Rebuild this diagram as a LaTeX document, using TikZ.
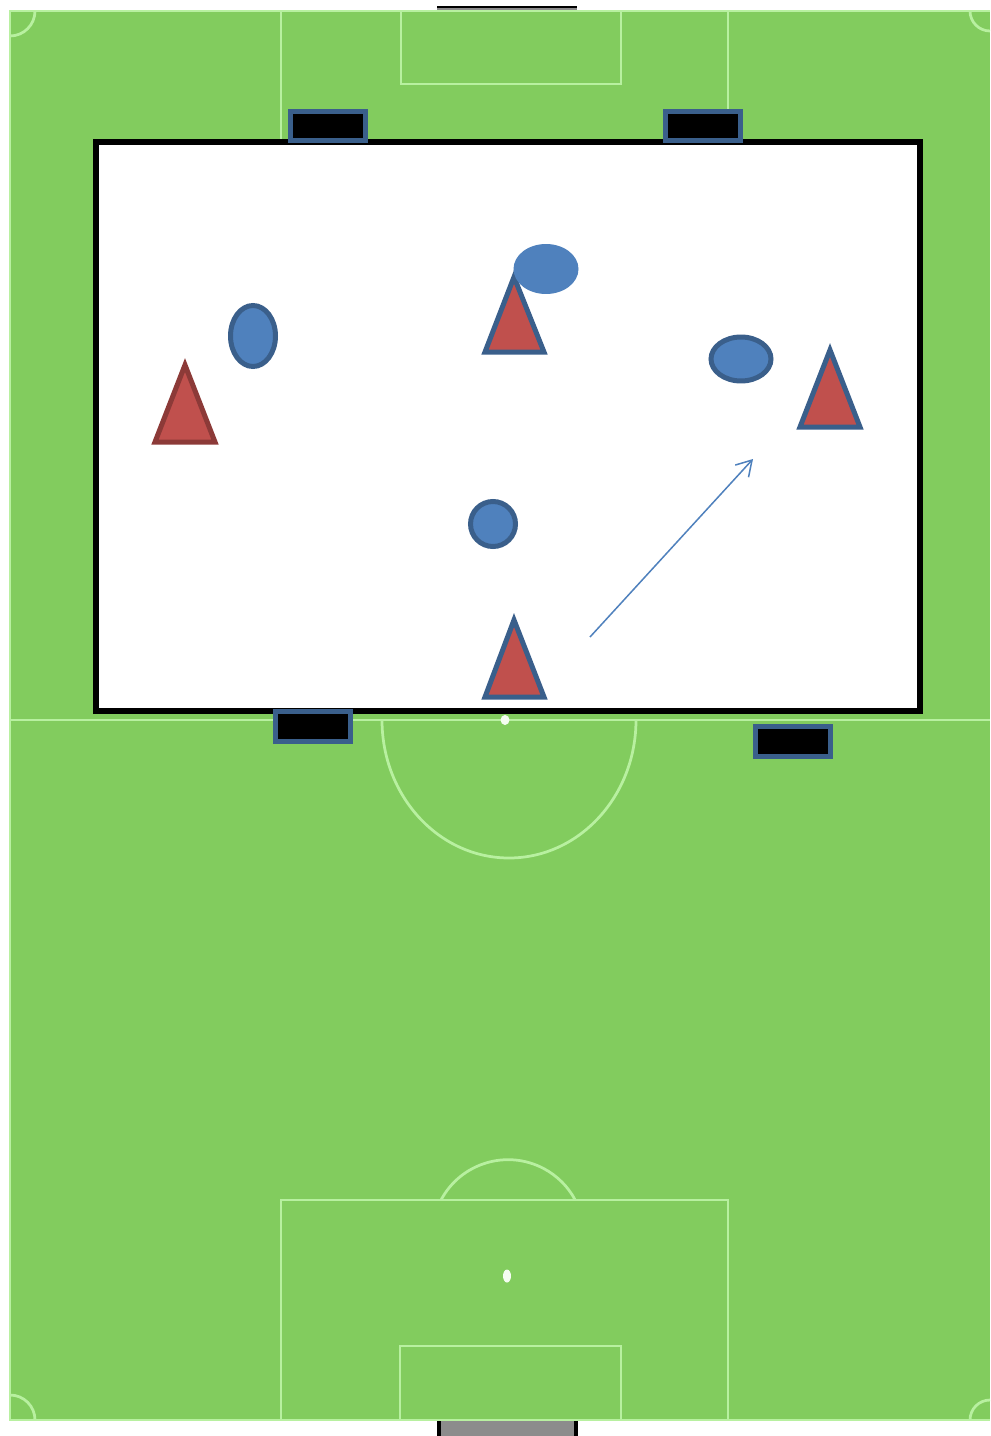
\documentclass[tikz,border=0pt]{standalone}
\usepackage{tikz}
\usetikzlibrary{arrows.meta, shapes.geometric}
\definecolor{grass}{HTML}{82CC5E}
\definecolor{chalk}{HTML}{B8F0A0}
\definecolor{navy}{HTML}{3A5F8B}
\definecolor{cone}{HTML}{C0504D}
\definecolor{conedark}{HTML}{8C3A38}
\definecolor{disc}{HTML}{4F81BD}
\definecolor{netgray}{HTML}{8C8C8C}

\begin{document}
\begin{tikzpicture}[x=0.02cm, y=-0.02cm, >=Stealth,
      chalkline/.style={draw=chalk, line width=0.055cm},
      spot/.style={ellipse, fill=white!85!chalk, inner sep=0pt},
      mini/.style={draw=navy, line width=0.1cm, fill=black, minimum width=1.5cm, minimum height=0.6cm, inner sep=0pt},
      player/.style={ellipse, draw=navy, line width=0.1cm, fill=disc, inner sep=0pt},
      conepath/.style={draw=navy, line width=0.1cm, fill=cone, line join=miter}]

    % page and pitch
    \useasboundingbox (0, 0) rectangle (990, 1436);
    \fill[white] (0, 0) rectangle (990, 1436);
    \fill[grass] (10, 11) rectangle (990, 1420);
    \draw[draw=chalk, line width=0.04cm] (990, 11) -- (10, 11) -- (10, 1420) -- (990, 1420);

    % goals
    \draw[black, line width=0.03cm] (437, 7) -- (577, 7);
    \fill[netgray] (437, 8) rectangle (577, 10);
    \fill[netgray] (437, 1421) rectangle (577, 1436);
    \draw[black, line width=0.08cm] (439, 1421) -- (439, 1436);
    \draw[black, line width=0.08cm] (576, 1421) -- (576, 1436);

    % top end
    \draw[chalkline] (281, 11) -- (281, 145);
    \draw[chalkline] (728, 11) -- (728, 145);
    \draw[chalkline] (401, 11) -- (401, 84) -- (621, 84) -- (621, 11);

    % bottom end
    \draw[chalkline] (281, 1420) -- (281, 1200) -- (728, 1200) -- (728, 1420);
    \draw[chalkline] (400, 1420) -- (400, 1346) -- (621, 1346) -- (621, 1420);
    \draw[chalkline] (441, 1200) arc[start angle=-152, end angle=-28, radius=76];
    \node[spot, minimum width=0.16cm, minimum height=0.26cm] (penspot) at (507, 1276) {};

    % corners
    \draw[chalkline] (35, 11) arc[start angle=0, end angle=90, radius=25];
    \draw[chalkline] (970, 11) arc[start angle=180, end angle=90, radius=20];
    \draw[chalkline] (35, 1420) arc[start angle=0, end angle=-90, radius=25];
    \draw[chalkline] (970, 1420) arc[start angle=180, end angle=270, radius=20];

    % halfway line and centre circle
    \draw[chalkline] (10, 720) -- (990, 720);
    \draw[chalkline] (382, 720) arc[start angle=180, end angle=360, x radius=127, y radius=-138];
    \node[spot, minimum width=0.18cm, minimum height=0.2cm] (midspot) at (505, 720) {};

    % playing area
    \draw[black, line width=0.11cm, fill=white] (96, 142) rectangle (920, 711);

    % mini goals
    \node[mini] (goalnw) at (328, 126) {};
    \node[mini] (goalne) at (703, 126) {};
    \node[mini] (goalsw) at (313, 726) {};
    \node[mini] (goalse) at (793, 741) {};

    % cones
    \draw[conepath, draw=conedark] (185, 365) -- (215, 442) -- (155, 442) -- cycle;
    \draw[conepath] (514, 277) -- (544, 352) -- (485, 352) -- cycle;
    \draw[conepath] (830, 350) -- (860, 427) -- (800, 427) -- cycle;
    \draw[conepath] (514, 620) -- (544, 697) -- (485, 697) -- cycle;

    % players
    \node[player, minimum width=0.9cm, minimum height=1.22cm] (left) at (253, 336) {};
    \node[ellipse, fill=disc, inner sep=0pt, minimum width=1.3cm, minimum height=1cm] (top) at (546, 269) {};
    \node[player, minimum width=1.2cm, minimum height=0.88cm] (right) at (741, 359) {};
    \node[player, minimum width=0.9cm, minimum height=0.9cm] (mid) at (493, 524) {};

    % run
    \coordinate (runa) at (590, 637);
    \coordinate (runb) at (753, 459);
    \draw[-{Straight Barb[length=0.3cm, width=0.36cm]}, draw=disc, line width=0.03cm] (runa) -- (runb);

\end{tikzpicture}
\end{document}
